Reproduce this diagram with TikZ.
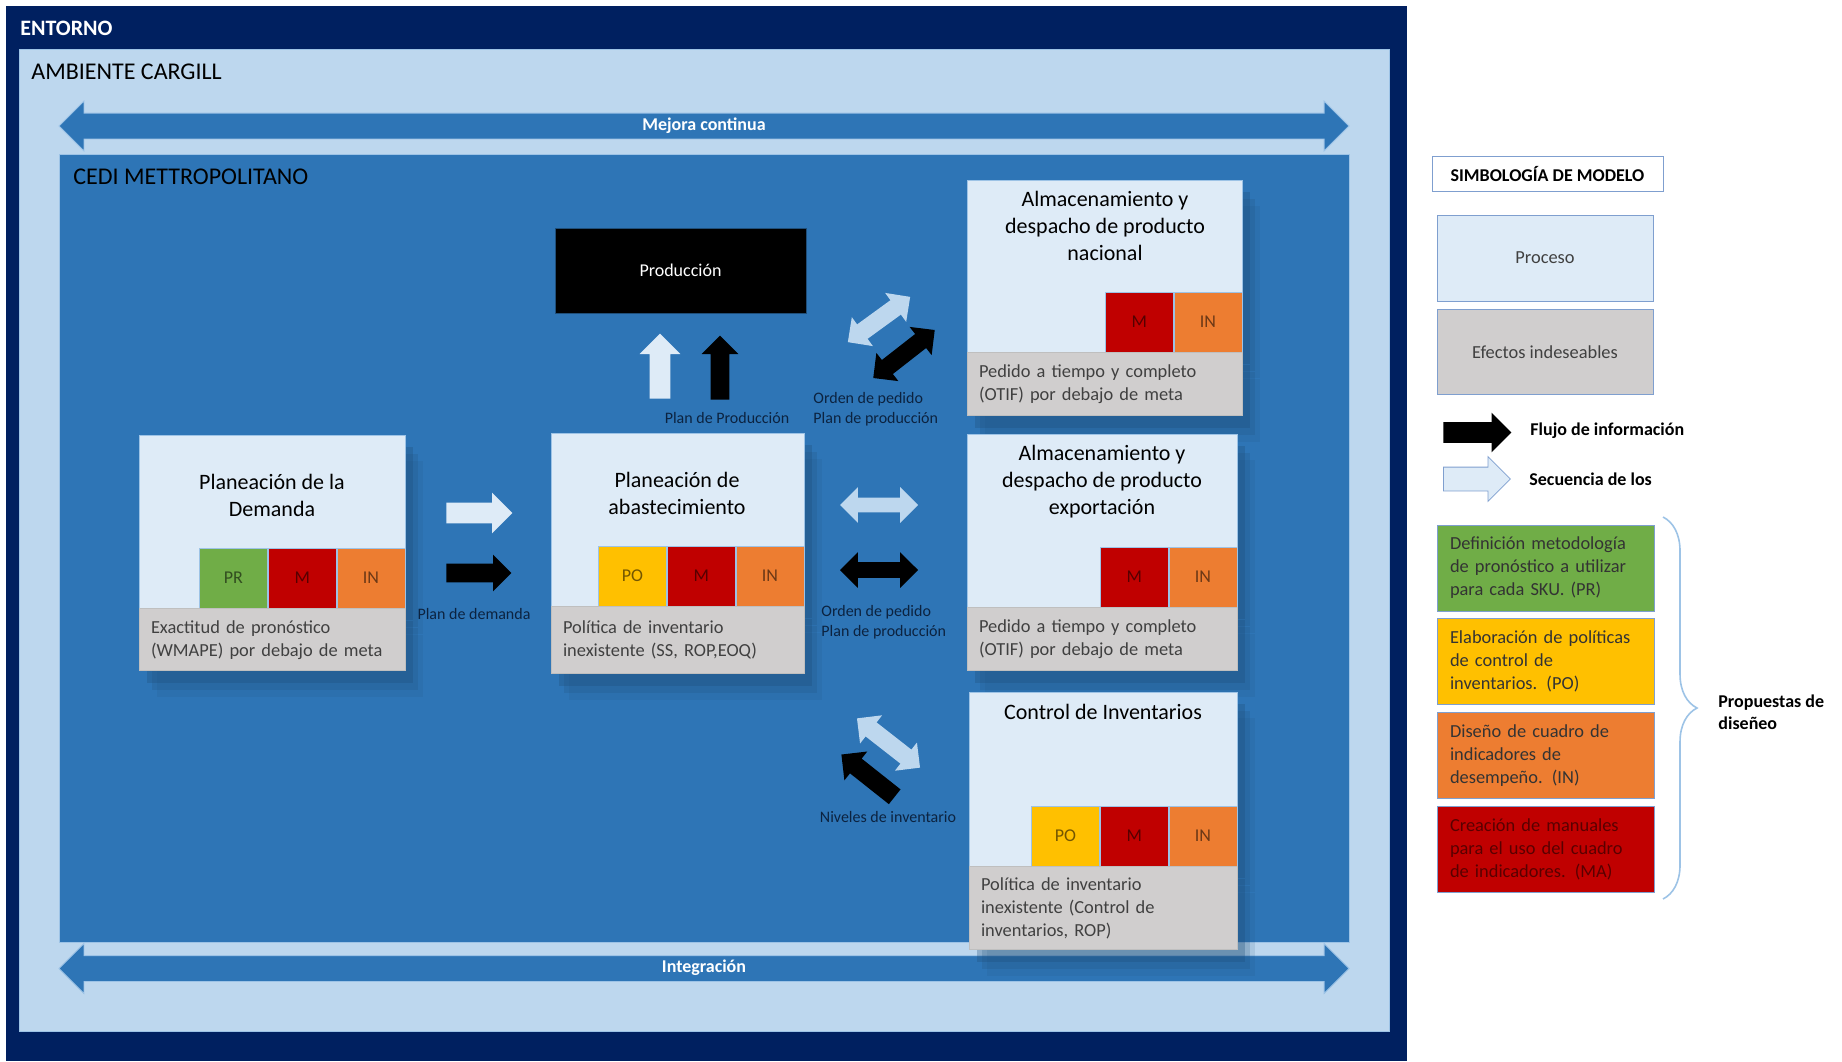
\documentclass[tikz,border=0pt]{standalone}
\usepackage{fontspec}
\setmainfont{Carlito}
\usetikzlibrary{positioning}
\usetikzlibrary{shapes}
\usetikzlibrary{shadows}
\usetikzlibrary{decorations.pathreplacing}

\definecolor{entorno}{HTML}{002060}
\definecolor{ambiente}{HTML}{BDD7EE}
\definecolor{ambline}{HTML}{9DC3E6}
\definecolor{cedi}{HTML}{2E75B6}
\definecolor{procfill}{HTML}{DEEBF7}
\definecolor{procline}{HTML}{9DC3E6}
\definecolor{effgray}{HTML}{D0CECE}
\definecolor{effline}{HTML}{BFBFBF}
\definecolor{efftext}{HTML}{404040}
\definecolor{prgreen}{HTML}{70AD47}
\definecolor{poyellow}{HTML}{FFC000}
\definecolor{mred}{HTML}{C00000}
\definecolor{inorange}{HTML}{ED7D31}
\definecolor{shadowblue}{HTML}{1F4E79}
\definecolor{seqfill}{HTML}{DEEBF7}
\definecolor{seqfilldk}{HTML}{BDD7EE}
\definecolor{notetext}{HTML}{0C2340}
\definecolor{legline}{HTML}{7F9FCF}
\definecolor{braceblue}{HTML}{9DC3E6}

\newcommand\cgbig{\fontsize{12pt}{14pt}\selectfont}
\newcommand\cgband{\bfseries\fontsize{9pt}{10pt}\selectfont}
\newcommand\cgtitle{\fontsize{11pt}{13.5pt}\selectfont}
\newcommand\cgeffect{\fontsize{9.2pt}{11.5pt}\selectfont}
\newcommand\cgtag{\fontsize{9pt}{10pt}\selectfont}
\newcommand\cgnote{\fontsize{8pt}{10pt}\selectfont}
\newcommand\cglegend{\fontsize{9.2pt}{11.5pt}\selectfont}
\newcommand\cglegbold{\bfseries\fontsize{9pt}{11pt}\selectfont}

\tikzset{
  every node/.style={inner sep=0pt},
  shadowed/.style={
    drop shadow={shadow xshift=9pt, shadow yshift=-13pt, fill=shadowblue, opacity=0.12},
    drop shadow={shadow xshift=6.5pt, shadow yshift=-9.5pt, fill=shadowblue, opacity=0.2},
    drop shadow={shadow xshift=4pt, shadow yshift=-6pt, fill=shadowblue, opacity=0.3}},
  procbox/.style={draw=procline, fill=procfill, shadowed},
  prodbox/.style={draw=shadowblue, fill=black, text=white, font=\cgtag},
  title/.style={align=center, font=\cgtitle},
  tag/.style={draw=procline, fill=#1, text=#1!45!black, minimum width=34pt, minimum height=30pt, font=\cgtag},
  effbox/.style={draw=effline, fill=effgray, text=efftext, align=left, inner xsep=6pt, font=\cgeffect, shadowed},
  note/.style={text=notetext, font=\cgnote},
  seqarrow/.style={single arrow, fill=seqfill, inner xsep=0pt, inner ysep=5pt, single arrow head extend=5pt},
  infoarrow/.style={single arrow, fill=black, inner xsep=0pt, inner ysep=4.5pt, single arrow head extend=4.5pt},
  seqboth/.style={double arrow, fill=seqfilldk, inner xsep=0pt, inner ysep=4.25pt, double arrow head extend=4.5pt},
  infoboth/.style={double arrow, fill=black, inner xsep=0pt, inner ysep=4.25pt, double arrow head extend=4.5pt},
  bandarrow/.style={double arrow, fill=cedi, draw=ambline, double arrow head extend=6pt, inner xsep=0pt,
    inner ysep=2.25pt, text height=6pt, text depth=2pt, text=white, font=\cgband, minimum height=645pt},
  legbox/.style={draw=legline, minimum width=108pt, font=\cglegend},
  propbox/.style={draw=legline, fill=#1, text width=95.5pt, inner xsep=6.5pt, minimum height=43pt,
    align=left, font=\cglegend, text=black!80},
}

\begin{document}
\begin{tikzpicture}[x=0.5pt,y=-0.5pt]
\useasboundingbox (0,0) rectangle (1842,1061);
\fill [entorno] (6,6) rectangle (1407,1061);
\filldraw [fill=ambiente, draw=ambline] (19,49) rectangle (1389,1031);
\filldraw [fill=cedi, draw=ambline] (59,154) rectangle (1349,942);
\node (entorno) [anchor=west, text=white, font=\bfseries\fontsize{11pt}{13pt}\selectfont] at (20,28) {ENTORNO};
\node (ambiente) [anchor=west, font=\cgbig] at (31,72) {AMBIENTE CARGILL};
\node (cedi) [anchor=west, font=\cgbig] at (73,177) {CEDI METTROPOLITANO};
\node (mejora) [bandarrow] at (704,126) {Mejora continua};
\node (integra) [bandarrow] at (704,968.5) {Integración};

\node (dem) [procbox, minimum width=133pt, minimum height=86.5pt] at (272,521.5) {};
\node (demT) [title] at (272,495.5) {Planeación de la\\Demanda};
\node (demIN) [tag=inorange, anchor=south east] at (dem.south east) {IN};
\node (demM) [tag=mred, left=0pt of demIN] {M};
\node (demPR) [tag=prgreen, left=0pt of demM] {PR};
\node (demE) [effbox, text width=121pt, minimum height=31pt, below=0pt of dem] {Exactitud de pronóstico\\(WMAPE) por debajo de meta};

\node (abs) [procbox, minimum width=126.5pt, minimum height=86.5pt] at (677.5,519.5) {};
\node (absT) [title] at (677,493.5) {Planeación de\\abastecimiento};
\node (absIN) [tag=inorange, anchor=south east] at (abs.south east) {IN};
\node (absM) [tag=mred, left=0pt of absIN] {M};
\node (absPO) [tag=poyellow, left=0pt of absM] {PO};
\node (absE) [effbox, text width=114.5pt, minimum height=33.5pt, below=0pt of abs] {Política de inventario\\inexistente (SS, ROP,EOQ)};

\node (prod) [prodbox, minimum width=125.5pt, minimum height=42.5pt] at (680.5,270.5) {Producción};

\node (nac) [procbox, minimum width=137.5pt, minimum height=86pt] at (1104.5,266) {};
\node (nacT) [title] at (1105,226) {Almacenamiento y\\despacho de producto\\nacional};
\node (nacIN) [tag=inorange, anchor=south east] at (nac.south east) {IN};
\node (nacM) [tag=mred, left=0pt of nacIN] {M};
\node (nacE) [effbox, text width=125.5pt, minimum height=31.5pt, below=0pt of nac] {Pedido a tiempo y completo\\(OTIF) por debajo de meta};

\node (exp) [procbox, minimum width=135pt, minimum height=86.5pt] at (1102,520.5) {};
\node (expT) [title] at (1102,481.5) {Almacenamiento y\\despacho de producto\\exportación};
\node (expIN) [tag=inorange, anchor=south east] at (exp.south east) {IN};
\node (expM) [tag=mred, left=0pt of expIN] {M};
\node (expE) [effbox, text width=123pt, minimum height=31.5pt, below=0pt of exp] {Pedido a tiempo y completo\\(OTIF) por debajo de meta};

\node (inv) [procbox, minimum width=134pt, minimum height=87pt] at (1103,779) {};
\node (invT) [title] at (1103,712) {Control de Inventarios};
\node (invIN) [tag=inorange, anchor=south east] at (inv.south east) {IN};
\node (invM) [tag=mred, left=0pt of invIN] {M};
\node (invPO) [tag=poyellow, left=0pt of invM] {PO};
\node (invE) [effbox, text width=122pt, minimum height=41.5pt, below=0pt of inv] {Política de inventario\\inexistente (Control de\\inventarios, ROP)};

\node (demSeq) [seqarrow, minimum height=33pt, anchor=tail] at (446,513) {};
\node (demInfo) [infoarrow, minimum height=32.5pt, anchor=tail] at (446,573) {};
\node (prodSeq) [seqarrow, minimum height=32.5pt, anchor=tail, rotate=90] at (660,399) {};
\node (prodInfo) [infoarrow, minimum height=32pt, anchor=tail, rotate=90] at (720,400) {};
\node (nacSeq) [seqboth, minimum height=38.5pt, rotate=36] at (879,319.5) {};
\node (nacInfo) [infoboth, minimum height=39pt, rotate=38] at (904,354) {};
\node (expSeq) [seqboth, minimum height=39pt, inner ysep=3.5pt, double arrow head extend=5.25pt] at (879,505) {};
\node (expInfo) [infoboth, minimum height=39pt, inner ysep=3.75pt, double arrow head extend=5pt] at (879,570) {};
\node (invSeq) [seqboth, minimum height=40pt, rotate=-38] at (888.5,743) {};
\node (invInfo) [infoarrow, minimum height=34pt, anchor=tail, rotate=141.6] at (895,797) {};

\node (lblDem) [note] at (474,614) {Plan de demanda};
\node (lblProd) [note] at (727,418) {Plan de Producción};
\node (lblNac) [note, anchor=west, align=left] at (813,409) {Orden de pedido\\Plan de producción};
\node (lblExp) [note, anchor=west, align=left] at (821,622.5) {Orden de pedido\\Plan de producción};
\node (lblInv) [note] at (888,817) {Niveles de inventario};

\node (simb) [draw=legline, fill=white, minimum width=115.5pt, minimum height=17.5pt, font=\cglegbold] at (1547.5,173.5) {SIMBOLOGÍA DE MODELO};
\node (legProc) [legbox, fill=procfill, minimum height=43pt, text=efftext] at (1545,258) {Proceso};
\node (legEff) [legbox, fill=effgray, minimum height=42.5pt, text=efftext, below=4pt of legProc] {Efectos indeseables};
\node (legInfo) [infoarrow, minimum height=34pt, inner ysep=5pt, single arrow head extend=4.75pt, anchor=tail] at (1443,432.5) {};
\node (legInfoT) [anchor=west, font=\cglegbold] at (1530,431) {Flujo de información};
\node (legSeq) [seqarrow, draw=legline, minimum height=33.5pt, inner ysep=5.75pt, single arrow head extend=5.25pt, anchor=tail] at (1443,479) {};
\node (legSeqT) [anchor=west, font=\cglegbold] at (1529,479) {Secuencia de los};

\node (legPR) [propbox=prgreen] at (1545.5,568) {Definición metodología\\de pronóstico a utilizar\\para cada SKU. (PR)};
\node (legPO) [propbox=poyellow, below=3.5pt of legPR] {Elaboración de políticas\\de control de\\inventarios. (PO)};
\node (legIN) [propbox=inorange, below=3.5pt of legPO] {Diseño de cuadro de\\indicadores de\\desempeño. (IN)};
\node (legMA) [propbox=mred, text=red!35!black, below=3.5pt of legIN] {Creación de manuales\\para el uso del cuadro\\de indicadores. (MA)};
\coordinate (braceTop) at (1663,517);
\coordinate (braceBot) at (1663,899);
\draw [braceblue, line width=0.8pt, decorate, decoration={brace, amplitude=17pt}] (braceTop) -- (braceBot);
\node (legProp) [anchor=west, align=left, font=\cglegbold] at (1718,712) {Propuestas de\\diseñeo};
\end{tikzpicture}
\end{document}
